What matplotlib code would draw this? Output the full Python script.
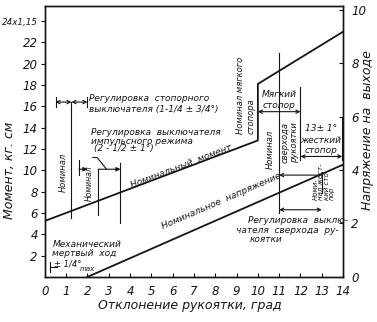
import matplotlib.pyplot as plt

plt.rcParams['font.family'] = ['Liberation Sans Narrow', 'DejaVu Sans']
plt.rcParams['font.style'] = 'italic'

# Характеристики рукоятки
moment_x = [0, 10, 10, 14]
moment_y = [5.25, 12.8, 18.1, 23.0]
voltage_x = [2, 14]
voltage_y = [0, 4.2]

x_ticks = list(range(0, 15))
moment_ticks = [2, 4, 6, 8, 10, 12, 14, 16, 18, 20, 22, 24]
moment_labels = ["2", "4", "6", "8", "10", "12", "14", "16", "18", "20", "22", "24x1,15"]
voltage_ticks = [0, 2, 4, 6, 8, 10]

ink = "#151515"

fig = plt.figure(figsize=(3.77, 3.22), dpi=100)
ax = fig.add_axes([0.119, 0.140, 0.791, 0.841])
ax2 = ax.twinx()

ax.set_xlim(0, 14)
ax.set_ylim(0, 25.4)
ax2.set_ylim(0, 10.13)

ax.plot(moment_x, moment_y, color=ink, lw=1.3)
ax2.plot(voltage_x, voltage_y, color=ink, lw=1.3)

ax.set_xticks(x_ticks)
ax.set_xticklabels([str(v) for v in x_ticks], fontsize=8.5)
ax.set_yticks(moment_ticks)
ax.set_yticklabels(moment_labels, fontsize=8.5)
ax.get_yticklabels()[-1].set_fontsize(6.3)
ax2.set_yticks(voltage_ticks)
ax2.set_yticklabels([str(v) for v in voltage_ticks], fontsize=8.5)
ax.tick_params(axis="y", direction="out", length=3, width=0.8, pad=2, colors=ink)
ax.tick_params(axis="x", direction="in", length=3, width=0.8, pad=6, colors=ink)
ax2.tick_params(axis="y", direction="in", length=3, width=0.8, pad=6, colors=ink)
for a in (ax, ax2):
    for s in a.spines.values():
        s.set_linewidth(1.0)
        s.set_color(ink)

fig.text(10 / 377, 1 - 170 / 322, "Момент, кг. см", rotation=90, ha="center", va="center", fontsize=9, color=ink)
fig.text(367 / 377, 1 - 130 / 322, "Напряжение на  выходе", rotation=90, ha="center", va="center", fontsize=9, color=ink)
fig.text(190 / 377, 1 - 305 / 322, "Отклонение рукоятки, град", ha="center", va="center", fontsize=9, color=ink)

fs = 6.5
lw = 0.8


def line(xs, ys):
    ax.plot(xs, ys, color=ink, lw=lw)


def arrow(x1, x2, y, style="<->"):
    ax.annotate("", xy=(x2, y), xytext=(x1, y),
                arrowprops=dict(arrowstyle=style, color=ink, lw=lw,
                                shrinkA=0, shrinkB=0, mutation_scale=6))


def label(x, y, s, rot=0, ha="left", size=fs, **kw):
    ax.text(x, y, s, rotation=rot, ha=ha, va="center", fontsize=size, color=ink,
            rotation_mode="anchor" if rot not in (0, 90) else "default", **kw)


# стопорный выключатель 1-1/4 ± 3/4
line([1.25, 1.25], [5.5, 16.4])
line([0.5, 0.5], [15.9, 16.9])
line([2.0, 2.0], [15.9, 16.9])
arrow(0.5, 1.25, 16.4)
arrow(1.25, 2.0, 16.4)
label(2.05, 16.7, "Регулировка  стопорного")
label(2.05, 15.7, "выключателя (1-1/4 ± 3/4°)")
label(0.87, 9.8, "Номинал", rot=90, ha="center", size=6)

# импульсный режим 2-1/2 ± 1
line([1.6, 1.6], [9.6, 11.0])
line([2.5, 2.5], [5.8, 10.1])
line([3.55, 3.55], [5.1, 10.7])
arrow(1.6, 2.0, 10.1, style="-|>")
arrow(2.5, 3.55, 10.1, style="-|>")
line([2.25, 2.45, 2.9], [11.2, 11.2, 10.1])
label(2.15, 13.5, "Регулировка  выключателя")
label(2.15, 12.7, "импульсного режима")
label(2.3, 12.0, "(2 - 1/2 ± 1°)")
label(2.08, 8.8, "Номинал", rot=90, ha="center", size=5.5)

# механический мертвый ход
line([0.24, 0.24], [0.5, 1.4])
line([0.24, 0.55], [0.94, 0.94])
label(0.35, 3.0, "Механический")
label(0.35, 2.15, "мертвый  ход")
label(0.45, 1.2, "± 1/4°", size=6)
label(1.65, 0.7, "max", size=5)

label(4.05, 8.55, "Номинальный  момент", rot=21, size=6.5)
label(5.5, 4.7, "Номинальное  напряжение", rot=23.5, size=6.5)

# мягкий стопор
label(9.45, 17.0, "Номинал мягкого\nстопора", rot=90, ha="center", multialignment="left", size=6)
line([11.0, 11.0], [6.0, 21.0])
line([12.0, 12.0], [11.0, 17.8])
arrow(10.0, 12.0, 15.5)
label(11.0, 17.15, "Мягкий", ha="center")
label(11.0, 16.1, "стопор", ha="center")

# сверход рукоятки
label(10.6, 12.0, "Номинал", rot=90, ha="center", size=6)
label(11.5, 12.6, "сверхода\nрукоятки", rot=90, ha="center", multialignment="left", size=6)

# жесткий стопор 13 ± 1
line([13.96, 13.96], [11.0, 14.9])
arrow(12.0, 13.96, 11.3)
label(12.95, 13.95, "13± 1°", ha="center")
label(12.95, 12.75, "жесткий", ha="center")
label(12.95, 11.85, "стопор", ha="center")

line([13.0, 13.0], [7.9, 9.85])
arrow(11.0, 13.0, 9.55, style="<-")
arrow(11.0, 13.0, 6.3)
label(13.1, 8.9, "Номи-\nнал жест-\nкий сто-\nпор", rot=90, ha="center", size=5,
      multialignment="left", linespacing=0.9)

label(9.53, 5.25, "Регулировка  выклю-")
label(8.96, 4.4, "чателя  сверхода  ру-")
label(9.62, 3.55, "коятки")

fig.savefig("out.png", dpi=100)
